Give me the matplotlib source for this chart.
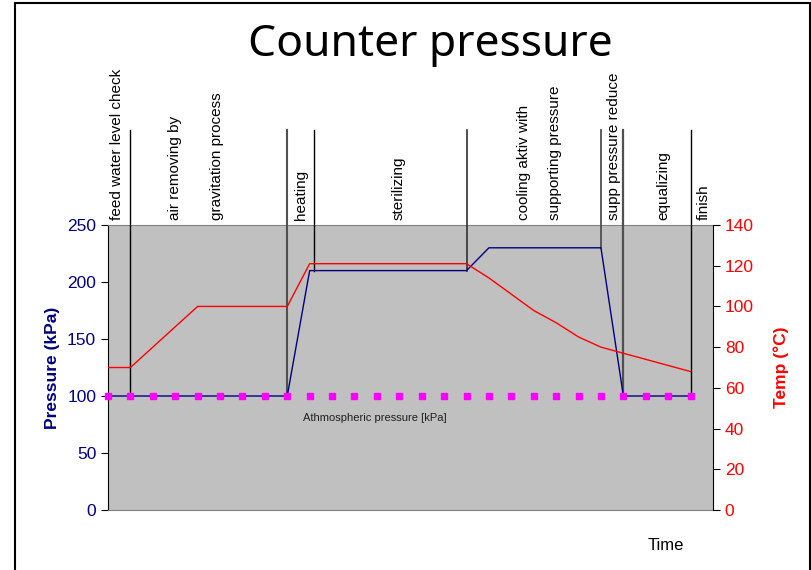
import matplotlib
matplotlib.use('Agg')
import matplotlib.pyplot as plt
import matplotlib.patches as patches
import matplotlib.transforms as mtrans
import numpy as np

# Data (one value per time step)
pressure = [100, 100, 100, 100, 100, 100, 100, 100, 100,
            210, 210, 210, 210, 210, 210, 210, 210,
            230, 230, 230, 230, 230, 230,
            100, 100, 100, 100]
temp = [70, 70, 80, 90, 100, 100, 100, 100, 100,
        121, 121, 121, 121, 121, 121, 121, 121,
        114, 106, 98, 92, 85, 80, 77, 74, 71, 68]
atmos = [100] * 27

# Phase boundaries (in time steps) and phase labels
boundaries = [1, 8, 9.2, 16, 22, 23, 26]
phase_labels = ['feed water level check', 'air removing by', 'gravitation process',
                'heating', 'sterilizing', 'cooling aktiv with', 'supporting pressure',
                'supp pressure reduce', 'equalizing', 'finish']
label_pos = [0.4, 3.0, 4.85, 8.6, 12.95, 18.55, 19.95, 22.6, 24.8, 26.6]

navy = '#000080'
red = '#FF0000'
plt.rcParams['font.family'] = ['Liberation Sans', 'DejaVu Sans']

fig = plt.figure(figsize=(8.12, 5.70), dpi=100)
ax = fig.add_axes([108/812, 1 - 510/570, 605/812, 285/570])
ax.set_facecolor('#C0C0C0')

x = np.arange(len(pressure))
ax.plot(x, pressure, color=navy, lw=1.0, zorder=4)
ax.plot(x, atmos, ls='none', marker='s', ms=4, color='#FF00FF', zorder=5, clip_on=False)

ax.set_xlim(0, 27)
ax.set_ylim(0, 250)
ax.set_yticks(np.arange(0, 251, 50))
ax.set_xticks([])
ax.tick_params(axis='y', colors='black', labelcolor=navy, labelsize=12.5, length=5, direction='out')
for s in ['top', 'bottom']:
    ax.spines[s].set_color('#808080')
ax.spines['left'].set_color('black')
ax.spines['right'].set_visible(False)
ax.set_ylabel('Pressure (kPa)', color=navy, fontsize=12.5, fontweight='bold', labelpad=5)

ax2 = ax.twinx()
ax2.plot(x, temp, color=red, lw=1.0, zorder=4)
ax2.set_ylim(0, 140)
ax2.set_yticks(np.arange(0, 141, 20))
ax2.tick_params(axis='y', colors='black', labelcolor=red, labelsize=12.5, length=5, direction='out')
ax2.spines['right'].set_color('black')
for s in ['top', 'bottom', 'left']:
    ax2.spines[s].set_visible(False)
ax2.set_ylabel('Temp (°C)', color=red, fontsize=12.5, fontweight='bold', labelpad=14)

# phase boundary lines, from the pressure curve up into the label area
trans = mtrans.blended_transform_factory(ax.transData, ax.transAxes)
line_colors = ['black', '#505050', 'black', '#303030', '#505050', '#505050', 'black']
line_widths = [1.0, 1.5, 1.0, 1.2, 1.3, 1.6, 1.0]
top = 1.333
for b, c, w in zip(boundaries, line_colors, line_widths):
    p = np.interp(b, x, pressure) / 250.0
    ax.plot([b, b], [p, top], color=c, lw=w, transform=trans, clip_on=False, zorder=3)

for lab, xp in zip(phase_labels, label_pos):
    ax.text(xp, 1.0175, lab, rotation=90, ha='center', va='bottom', fontsize=11,
            transform=trans, color='black')

ax.text(11.9, 81, 'Athmospheric pressure [kPa]', fontsize=8, ha='center', va='center',
        color='#202020')

fig.text(430/812, 1 - 45/570, 'Counter pressure', fontsize=32, ha='center', va='center',
         family=['Noto Sans', 'DejaVu Sans'])
fig.text(666/812, 1 - 546/570, 'Time', fontsize=12, ha='center', va='center')

# outer border
fig.patches.append(patches.Rectangle((15/812, -0.05), 795/812, 1.05 - 3/570, fill=False,
                                     lw=1.5, ec='black', transform=fig.transFigure))

fig.savefig('out.png', dpi=100)
